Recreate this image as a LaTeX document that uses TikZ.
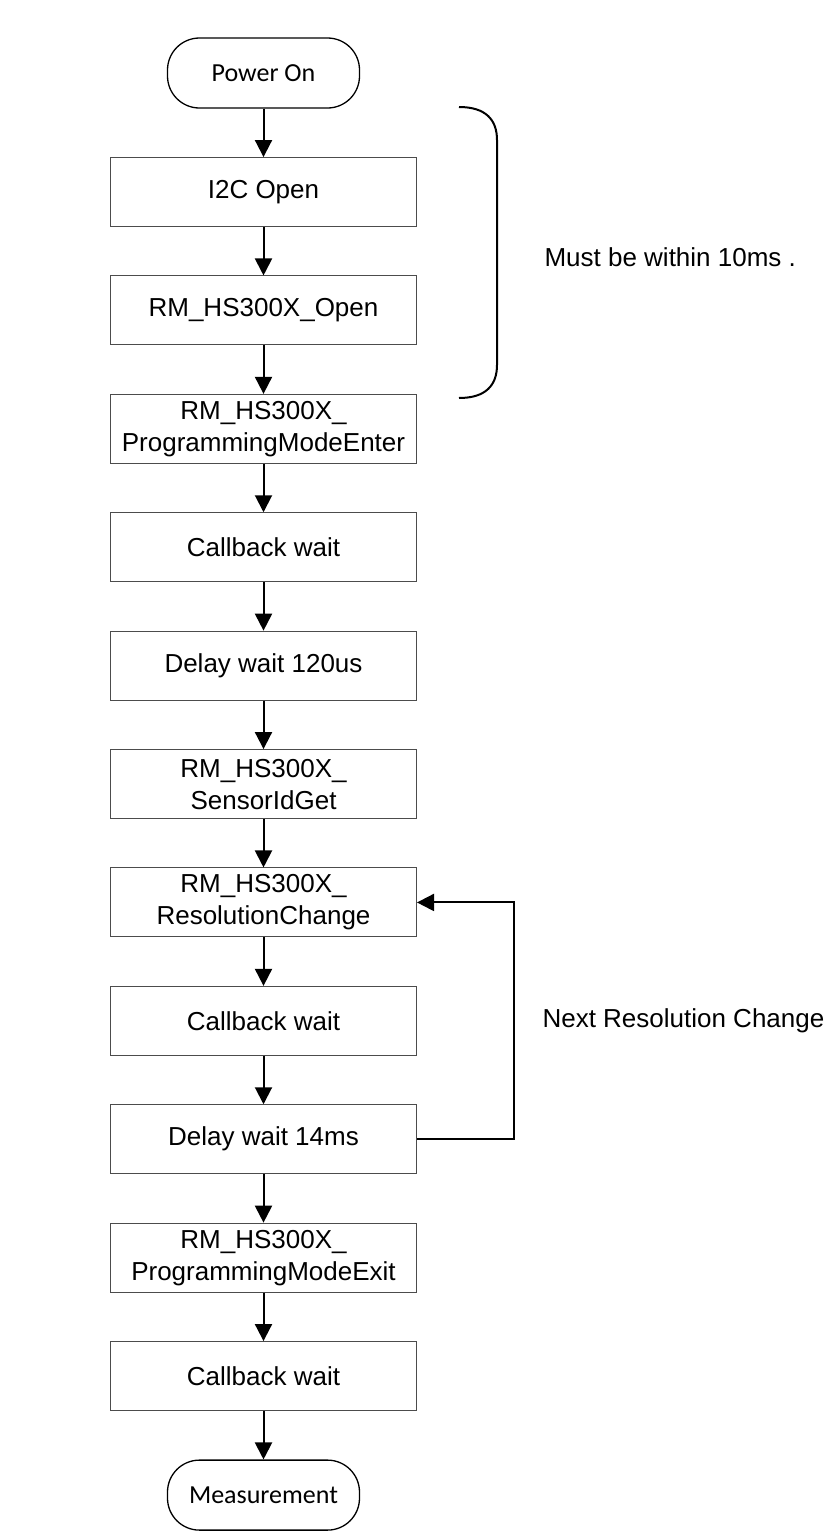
\documentclass[tikz,border=0pt]{standalone}
\usepackage{fontspec}
\setmainfont{Liberation Sans}
\newfontfamily\termfont{Carlito}
\usetikzlibrary{positioning, arrows.meta}

\begin{document}
\begin{tikzpicture}[
  x=1pt, y=1pt,
  node distance=48.4pt,
  font=\fontsize{26}{32}\selectfont,
  proc/.style={rectangle, draw=black!70, line width=1pt,
               minimum width=306pt, minimum height=69pt, align=center,
               inner sep=2pt},
  term/.style={rectangle, rounded corners=32pt, draw, line width=1.3pt,
               minimum width=192pt, minimum height=70pt, align=center,
               font=\termfont\fontsize{26}{32}\selectfont},
  note/.style={anchor=west, align=left},
  arr/.style={-{Triangle[length=17pt, width=17pt]}, line width=2pt}
]
\useasboundingbox (0,0) rectangle (839,-1537);

\node[term] (pwr) at (263.5,-73) {Power On};
\node[proc, below=of pwr]   (i2c)   {I2C Open};
\node[proc, below=of i2c]   (open)  {RM\_HS300X\_Open};
\node[proc, below=of open]  (enter) {RM\_HS300X\_\\ProgrammingModeEnter};
\node[proc, below=of enter] (cbA)   {Callback wait};
\node[proc, below=of cbA]   (dly120) {Delay wait 120us};
\node[proc, below=of dly120] (sid)  {RM\_HS300X\_\\SensorIdGet};
\node[proc, below=of sid]   (res)   {RM\_HS300X\_\\ResolutionChange};
\node[proc, below=of res]   (cbB)   {Callback wait};
\node[proc, below=of cbB]   (dly14) {Delay wait 14ms};
\node[proc, below=of dly14] (exit)  {RM\_HS300X\_\\ProgrammingModeExit};
\node[proc, below=of exit]  (cbC)   {Callback wait};
\node[term, below=of cbC]   (meas)  {Measurement};

\draw[arr] (pwr)    -- (i2c);
\draw[arr] (i2c)    -- (open);
\draw[arr] (open)   -- (enter);
\draw[arr] (enter)  -- (cbA);
\draw[arr] (cbA)    -- (dly120);
\draw[arr] (dly120) -- (sid);
\draw[arr] (sid)    -- (res);
\draw[arr] (res)    -- (cbB);
\draw[arr] (cbB)    -- (dly14);
\draw[arr] (dly14)  -- (exit);
\draw[arr] (exit)   -- (cbC);
\draw[arr] (cbC)    -- (meas);

% loop back
\coordinate (loop) at ([xshift=97pt]dly14.east);
\draw[arr] (dly14.east) -- (loop) |- (res.east);
\node[note] (nextres) at ([xshift=122pt]cbB.east) {Next Resolution Change};

% bracket
\draw[line width=2pt] (459,-107) .. controls (486,-107) and (497,-120) .. (497,-140)
  -- (497,-365) .. controls (497,-385) and (486,-398) .. (459,-398);
\node[note] (within) at (541,-257) {Must be within 10ms .};
\end{tikzpicture}
\end{document}
